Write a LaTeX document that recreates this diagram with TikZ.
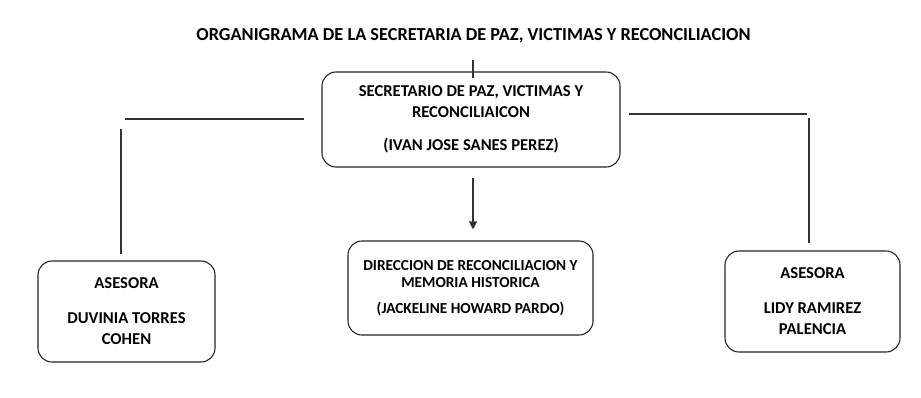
\documentclass[tikz,border=0pt]{standalone}
\usepackage{fontspec}
\setmainfont{Carlito}
\usetikzlibrary{arrows.meta,calc}
\begin{document}
\begin{tikzpicture}[x=1pt,y=-1pt,
  box/.style={draw=black!85,line width=1.1pt,rounded corners=14pt,align=center,
    font=\fontsize{16.6}{21}\selectfont\bfseries,inner sep=0pt},
  link/.style={draw=black!80,line width=1.2pt},
  title/.style={font=\fontsize{18.3}{21}\selectfont\bfseries}]
\useasboundingbox[fill=white] (0,0) rectangle (921,397);
\node[title] (ttl) at (473.5,36) {ORGANIGRAMA DE LA SECRETARIA DE PAZ, VICTIMAS Y RECONCILIACION};
\node[box,minimum width=298pt,minimum height=95pt] (sec) at (471,119.5)
  {SECRETARIO DE PAZ, VICTIMAS Y\\RECONCILIAICON\\[12pt](IVAN JOSE SANES PEREZ)};
\node[box,minimum width=245pt,minimum height=94pt,font=\fontsize{15.3}{21}\selectfont\bfseries] (dir) at (470.5,288)
  {DIRECCION DE RECONCILIACION Y\\[-4pt]MEMORIA HISTORICA\\[5pt](JACKELINE HOWARD PARDO)};
\node[box,minimum width=177pt,minimum height=101pt] (as1) at (126.5,311.5)
  {ASESORA\\[14pt]DUVINIA TORRES\\COHEN};
\node[box,minimum width=175pt,minimum height=101pt] (as2) at (812.5,301.5)
  {ASESORA\\[14pt]LIDY RAMIREZ\\PALENCIA};
% top tick
\coordinate (tk) at (473,60);
\draw[link] (tk) -- ($(sec.north)+(2,7)$);
% arrow to direction
\draw[link,-{Triangle[length=8pt,width=8pt]}] ($(sec.south)+(2,10)$) -- ($(dir.north)+(2.5,-11)$);
% left branch
\coordinate (lh) at (125,119);
\coordinate (lv) at (121,129);
\draw[link] ($(sec.west)+(-17,-0.5)$) -- (lh);
\draw[link] (lv) -- ($(as1.north)+(-5.5,-6)$);
% right branch
\coordinate (rh) at (807,114);
\coordinate (rv) at (809,118);
\draw[link] ($(sec.east)+(8,-5.5)$) -- (rh);
\draw[link] (rv) -- ($(as2.north)+(-3.5,-7)$);
\end{tikzpicture}
\end{document}
